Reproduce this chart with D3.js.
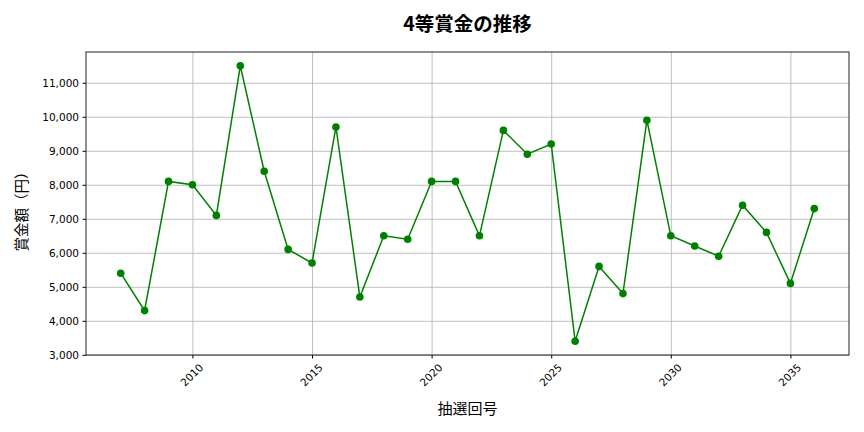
<!DOCTYPE html>
<html>
<head>
<meta charset="utf-8">
<script src="https://cdn.jsdelivr.net/npm/d3@7.9.0/dist/d3.min.js"></script>
<style>
  body { margin: 0; background: #fff; }
  svg { display: block; font-family: "Noto Sans CJK JP", "Noto Sans", sans-serif; }
  .grid line { stroke: #b0b0b0; stroke-width: 0.8; }
  .grid path { display: none; }
  .tick text { fill: #000; font-size: 10.5px; font-family: "DejaVu Sans", sans-serif; }
</style>
</head>
<body>
<div id="chart"></div>
<script>
const years = d3.range(2007, 2037);
const prizes = [
  5400, 4300, 8100, 8000, 7100, 11500, 8400, 6100, 5700, 9700,
  4700, 6500, 6400, 8100, 8100, 6500, 9600, 8900, 9200, 3400,
  5600, 4800, 9900, 6500, 6200, 5900, 7400, 6600, 5100, 7300,
];
const xTicks = [2010, 2015, 2020, 2025, 2030, 2035];
const yTicks = [3000, 4000, 5000, 6000, 7000, 8000, 9000, 10000, 11000];

const data = years.map((y, i) => ({ year: y, prize: prizes[i] }));

const width = 864;
const height = 432;
const margin = { top: 52, right: 15, bottom: 77, left: 86 };

const svg = d3.select('#chart')
  .append('svg')
  .attr('width', width)
  .attr('height', height);

// matplotlib-style 5% padding
const xExt = d3.extent(years);
const xPad = (xExt[1] - xExt[0]) * 0.05;
const yExt = d3.extent(prizes);
const yPad = (yExt[1] - yExt[0]) * 0.05;

const xScale = d3.scaleLinear()
  .domain([xExt[0] - xPad, xExt[1] + xPad])
  .range([margin.left, width - margin.right]);

const yScale = d3.scaleLinear()
  .domain([yExt[0] - yPad, yExt[1] + yPad])
  .range([height - margin.bottom, margin.top]);

// gridlines
svg.append('g')
  .attr('class', 'grid')
  .attr('transform', `translate(0, ${margin.top})`)
  .call(d3.axisBottom(xScale).tickValues(xTicks).tickFormat('')
    .tickSize(height - margin.top - margin.bottom));

svg.append('g')
  .attr('class', 'grid')
  .attr('transform', `translate(${margin.left}, 0)`)
  .call(d3.axisRight(yScale).tickValues(yTicks).tickFormat('')
    .tickSize(width - margin.left - margin.right));

// axes
const xAxis = svg.append('g')
  .attr('transform', `translate(0, ${height - margin.bottom})`)
  .call(d3.axisBottom(xScale).tickValues(xTicks).tickFormat(d3.format('d')).tickSizeOuter(0));
xAxis.select('.domain').remove();
xAxis.selectAll('.tick line').attr('y2', 3.5);
xAxis.selectAll('.tick text')
  .attr('text-anchor', 'middle')
  .attr('dy', '0.35em')
  .attr('x', 0)
  .attr('y', 0)
  .attr('transform', 'translate(-1, 20) rotate(-45)');

const yAxis = svg.append('g')
  .attr('transform', `translate(${margin.left}, 0)`)
  .call(d3.axisLeft(yScale).tickValues(yTicks).tickFormat(d3.format(',')).tickSizeOuter(0));
yAxis.select('.domain').remove();
yAxis.selectAll('.tick line').attr('x2', -3.5);
yAxis.selectAll('.tick text').attr('x', -7);

// frame
svg.append('rect')
  .attr('x', margin.left)
  .attr('y', margin.top)
  .attr('width', width - margin.left - margin.right)
  .attr('height', height - margin.top - margin.bottom)
  .attr('fill', 'none')
  .attr('stroke', '#222')
  .attr('stroke-width', 1);

// line + markers
const line = d3.line()
  .x(d => xScale(d.year))
  .y(d => yScale(d.prize));

svg.append('path')
  .datum(data)
  .attr('d', line)
  .attr('fill', 'none')
  .attr('stroke', 'green')
  .attr('stroke-width', 1.5);

svg.append('g')
  .selectAll('circle')
  .data(data)
  .join('circle')
  .attr('cx', d => xScale(d.year))
  .attr('cy', d => yScale(d.prize))
  .attr('r', 3.8)
  .attr('fill', 'green');

// labels
const cx = (margin.left + width - margin.right) / 2;

svg.append('text')
  .attr('x', cx)
  .attr('y', 31)
  .attr('text-anchor', 'middle')
  .attr('font-size', 19.5)
  .attr('font-weight', 'bold')
  .text('4等賞金の推移');

svg.append('text')
  .attr('x', cx)
  .attr('y', 414)
  .attr('text-anchor', 'middle')
  .attr('font-size', 15)
  .text('抽選回号');

svg.append('text')
  .attr('transform', 'translate(27, 208) rotate(-90)')
  .attr('text-anchor', 'middle')
  .attr('font-size', 14.5)
  .text('賞金額（円）');
</script>
</body>
</html>
